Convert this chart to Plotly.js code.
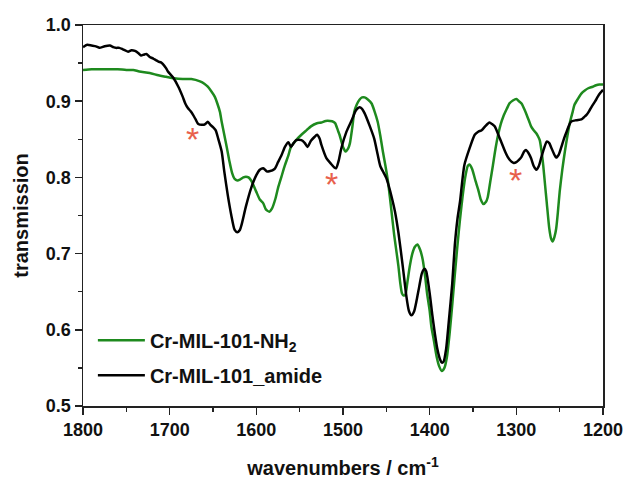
<!DOCTYPE html>
<html>
<head>
<meta charset="utf-8">
<script src="https://cdn.plot.ly/plotly-3.0.1.min.js"></script>
<style>html,body{margin:0;padding:0;background:#fff;}#chart{width:628px;height:483px;}</style>
</head>
<body>
<div id="chart"></div>
<script>
// Cr-MIL-101_amide (black)
const amideWn = [1800,1795,1790,1785,1781,1775,1769,1765,1762,1758,1754,1748,1744,1740,1736,1733,1730,1727,1723,1719,1716,1713,1710,1708,1704,1702,1696,1690,1685,1682,1679,1676,1673,1670,1667,1662,1659,1656,1653,1650,1647,1644,1640,1637,1633,1629,1625,1622,1619,1617,1612,1606,1600,1596,1592,1588,1585,1579,1575,1571,1567,1563,1560,1557,1554,1548,1544,1541,1537,1533,1530,1527,1525,1519,1514,1510,1508,1505,1502,1496,1490,1485,1481,1478,1475,1469,1464,1460,1457,1453,1450,1447,1444,1440,1436,1431,1427,1424,1421,1418,1415,1412,1409,1406,1404,1400,1397,1394,1391,1388,1386,1384,1381,1378,1374,1371,1368,1365,1360,1354,1348,1344,1340,1336,1331,1328,1325,1319,1313,1310,1306,1303,1300,1297,1294,1291,1289,1286,1283,1280,1277,1274,1271,1268,1265,1262,1260,1257,1254,1251,1248,1245,1242,1237,1231,1225,1222,1219,1216,1213,1209,1206,1203,1200];
const amideT = [0.971,0.974,0.973,0.972,0.970,0.972,0.973,0.971,0.970,0.970,0.968,0.965,0.967,0.966,0.963,0.960,0.961,0.962,0.958,0.956,0.954,0.952,0.951,0.949,0.943,0.939,0.931,0.919,0.906,0.897,0.891,0.887,0.882,0.876,0.870,0.869,0.870,0.873,0.869,0.866,0.862,0.851,0.834,0.808,0.777,0.751,0.731,0.728,0.731,0.738,0.762,0.786,0.803,0.810,0.812,0.808,0.808,0.811,0.820,0.829,0.840,0.846,0.840,0.845,0.849,0.849,0.845,0.840,0.848,0.853,0.856,0.851,0.843,0.825,0.818,0.813,0.812,0.822,0.838,0.860,0.875,0.888,0.892,0.890,0.884,0.867,0.851,0.830,0.815,0.806,0.799,0.788,0.775,0.755,0.727,0.683,0.645,0.625,0.619,0.624,0.639,0.657,0.674,0.680,0.677,0.648,0.620,0.595,0.574,0.561,0.557,0.558,0.575,0.610,0.660,0.711,0.745,0.768,0.816,0.838,0.856,0.860,0.862,0.867,0.872,0.870,0.867,0.851,0.834,0.827,0.821,0.819,0.820,0.823,0.827,0.834,0.836,0.832,0.825,0.815,0.810,0.815,0.827,0.838,0.847,0.845,0.840,0.832,0.826,0.830,0.840,0.851,0.860,0.873,0.875,0.876,0.879,0.882,0.887,0.893,0.900,0.906,0.911,0.915];

// Cr-MIL-101-NH2 (green)
const nh2Wn = [1800,1790,1780,1770,1760,1750,1742,1735,1723,1713,1704,1695,1685,1675,1665,1660,1656,1652,1648,1645,1642,1640,1637,1634,1631,1628,1625,1622,1619,1615,1612,1609,1606,1603,1600,1596,1592,1589,1585,1582,1578,1575,1571,1567,1563,1560,1554,1548,1542,1537,1530,1525,1520,1515,1511,1509,1506,1504,1500,1497,1494,1492,1489,1487,1484,1481,1478,1475,1471,1467,1464,1460,1457,1454,1451,1448,1446,1444,1441,1438,1436,1434,1432,1430,1428,1426,1423,1420,1417,1414,1411,1408,1405,1403,1400,1398,1395,1392,1389,1386,1383,1380,1377,1374,1371,1368,1365,1362,1359,1356,1354,1351,1347,1344,1341,1338,1335,1333,1330,1327,1324,1321,1318,1315,1311,1308,1304,1300,1297,1294,1291,1288,1285,1283,1280,1277,1275,1273,1271,1269,1267,1265,1262,1260,1258,1256,1254,1252,1250,1247,1244,1241,1238,1235,1233,1229,1225,1221,1217,1212,1208,1204,1200];
const nh2T = [0.941,0.942,0.942,0.942,0.942,0.941,0.941,0.939,0.937,0.934,0.932,0.930,0.929,0.929,0.926,0.923,0.919,0.913,0.906,0.897,0.886,0.873,0.856,0.839,0.821,0.806,0.798,0.796,0.797,0.800,0.801,0.800,0.796,0.789,0.781,0.771,0.766,0.758,0.755,0.759,0.772,0.786,0.801,0.816,0.829,0.840,0.849,0.856,0.862,0.867,0.871,0.872,0.874,0.874,0.873,0.871,0.862,0.856,0.840,0.834,0.838,0.845,0.868,0.886,0.896,0.902,0.905,0.905,0.902,0.897,0.888,0.873,0.855,0.834,0.815,0.794,0.775,0.755,0.725,0.700,0.683,0.662,0.648,0.645,0.646,0.660,0.683,0.700,0.709,0.712,0.705,0.692,0.668,0.648,0.625,0.604,0.585,0.565,0.552,0.546,0.550,0.565,0.595,0.632,0.672,0.710,0.745,0.775,0.800,0.815,0.817,0.811,0.795,0.784,0.771,0.765,0.768,0.774,0.795,0.816,0.838,0.856,0.870,0.880,0.890,0.897,0.901,0.903,0.900,0.897,0.890,0.882,0.873,0.867,0.862,0.858,0.854,0.849,0.835,0.816,0.792,0.768,0.733,0.720,0.716,0.722,0.733,0.755,0.781,0.810,0.834,0.855,0.873,0.886,0.895,0.903,0.910,0.914,0.917,0.919,0.921,0.922,0.922];

const seriesNames = ['Cr-MIL-101-NH<sub>2</sub>', 'Cr-MIL-101_amide'];
const starWn = [1674, 1513, 1301];
const starT = [0.857, 0.798, 0.803];

const FONT = 'Liberation Sans, Arial, sans-serif';

const traces = [
  {x: nh2Wn, y: nh2T, type: 'scatter', mode: 'lines', name: seriesNames[0], legendgroup: 'a',
   line: {color: '#1e8a1e', width: 2.5, shape: 'spline', smoothing: 0.6}},
  {x: amideWn, y: amideT, type: 'scatter', mode: 'lines', name: seriesNames[1], legendgroup: 'b',
   line: {color: '#000000', width: 2.5, shape: 'spline', smoothing: 0.6}}
];

const annotations = starWn.map((w, i) => ({
  x: w, y: starT[i], xref: 'x', yref: 'y', text: '*', showarrow: false,
  font: {family: FONT, size: 34, color: '#e8604c'}, yshift: -5
}));

const axisCommon = {
  showline: true, linecolor: '#222', linewidth: 1.5, mirror: true,
  ticks: 'outside', ticklen: 7, tickwidth: 1.5, tickcolor: '#222',
  showgrid: false, zeroline: false,
  tickfont: {family: FONT, size: 18, color: '#111', weight: 'bold'}
};

const layout = {
  width: 628, height: 483,
  margin: {l: 83, r: 25, t: 25, b: 77},
  paper_bgcolor: '#fff', plot_bgcolor: '#fff',
  showlegend: true,
  legend: {x: 0.019, y: 0.224, xanchor: 'left', yanchor: 'top', bgcolor: 'rgba(0,0,0,0)',
           itemwidth: 47,
           font: {family: FONT, size: 20, color: '#111', weight: 'bold'}, tracegroupgap: 6},
  xaxis: Object.assign({}, axisCommon, {
    range: [1800, 1200], tick0: 1200, dtick: 100,
    minor: {dtick: 50, ticks: 'outside', ticklen: 4, tickwidth: 1.5, tickcolor: '#222'},
    title: {text: 'wavenumbers / cm<sup>-1</sup>', standoff: 22, font: {family: FONT, size: 20, color: '#111', weight: 'bold'}}
  }),
  yaxis: Object.assign({}, axisCommon, {
    range: [0.5, 1.0], tick0: 0.5, dtick: 0.1, tickformat: '.1f',
    minor: {dtick: 0.05, ticks: 'outside', ticklen: 4, tickwidth: 1.5, tickcolor: '#222'},
    title: {text: 'transmission', standoff: 12, font: {family: FONT, size: 20, color: '#111', weight: 'bold'}}
  }),
  annotations: annotations
};

Plotly.newPlot('chart', traces, layout, {displayModeBar: false, staticPlot: true});
</script>
</body>
</html>
